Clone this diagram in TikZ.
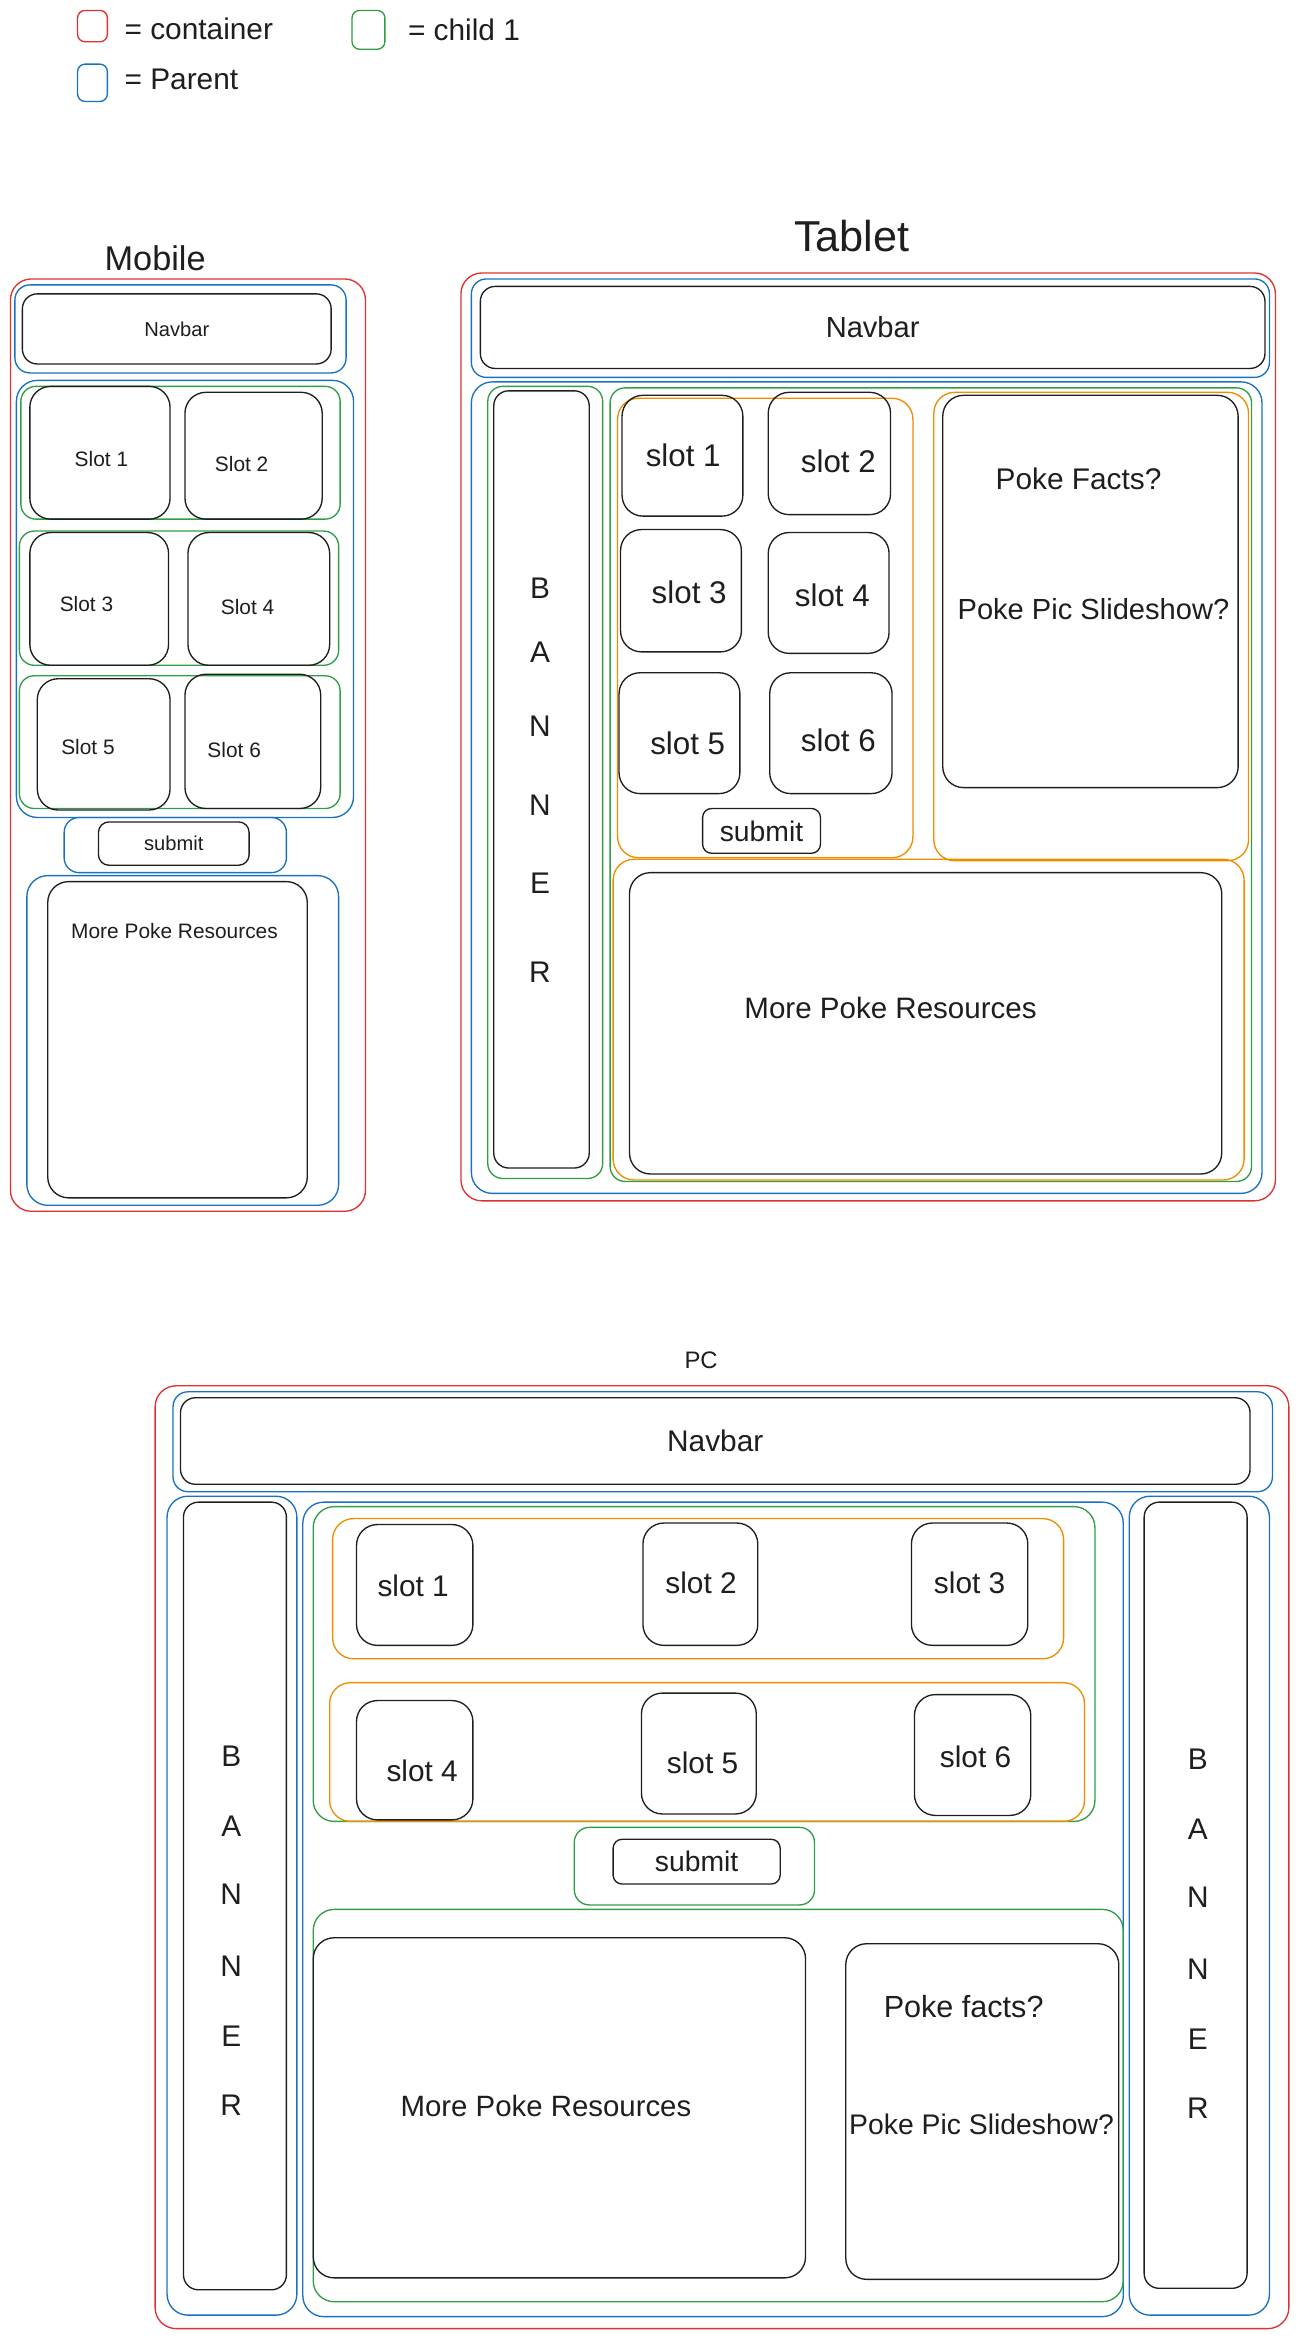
\documentclass[tikz,border=0pt]{standalone}
\usepackage{fontspec}
\setmainfont{Liberation Sans}
\usetikzlibrary{fit}

\definecolor{exred}{HTML}{E03131}
\definecolor{exblue}{HTML}{1971C2}
\definecolor{exgreen}{HTML}{2F9E44}
\definecolor{exorange}{HTML}{F08C00}
\definecolor{exblack}{HTML}{1E1E1E}
\newcommand\txtsize[1]{\fontsize{#1}{#1}\selectfont}

\begin{document}
\begin{tikzpicture}[x=1pt, y=-1pt,
    frame/.style={rounded corners=10pt, line width=0.9pt, inner sep=0pt},
    container/.style={frame, draw=exred},
    parent/.style={frame, draw=exblue},
    child/.style={frame, draw=exgreen},
    group/.style={frame, draw=exorange},
    item/.style={frame, draw=exblack},
    slotbox/.style={item, rounded corners=14pt},
    keytext/.style={anchor=west, text=exblack, font=\txtsize{20}},
    caption/.style={text=exblack, inner sep=0pt},
    letter/.style={caption, font=\txtsize{20}}
    ]
    \useasboundingbox (0,0) rectangle (871,1568);

    % legend
    \node[container, rounded corners=5pt, fit={(52,7) (72,28)}] (key_container) {};
    \node[keytext] (key_container_text) at (80,19) {= container};
    \node[parent, rounded corners=5pt, fit={(52,43) (72,68)}] (key_parent) {};
    \node[keytext] (key_parent_text) at (80,53) {= Parent};
    \node[child, rounded corners=5pt, fit={(236,7) (258,33)}] (key_child) {};
    \node[keytext] (key_child_text) at (270,20) {= child 1};

    % mobile
    \node[caption, font=\txtsize{23}] (m_title) at (104,173) {Mobile};
    \node[container, rounded corners=14pt, fit={(7,187) (245,812)}] (m_container) {};
    \node[parent, fit={(10,191) (232,250)}] (m_nav_parent) {};
    \node[item, fit={(15,197) (222,244)}] (m_navbar) {};
    \node[caption, font=\txtsize{13.5}] (m_navbar_text) at (m_navbar) {Navbar};
    \node[parent, rounded corners=14pt, fit={(11,255) (237,548)}] (m_slots_parent) {};
    \node[child, fit={(14,259) (228,348)}] (m_row1) {};
    \node[child, fit={(13,356) (227,446)}] (m_row2) {};
    \node[child, fit={(13,453) (228,542)}] (m_row3) {};
    \foreach \n/\xa/\ya/\xb/\yb/\lx/\ly in {1/20/259/114/348/68/308, 2/124/263/216/348/162/311,
        3/20/357/113/446/58/405, 4/126/357/221/446/166/407,
        5/25/455/114/543/59/501, 6/124/452/215/542/157/503} {
      \node[slotbox, fit={(\xa,\ya) (\xb,\yb)}] (m_slot\n) {};
      \node[caption, font=\txtsize{14}] (m_slot\n_text) at (\lx,\ly) {Slot \n};
    };
    \node[parent, fit={(43,548) (192,585)}] (m_submit_parent) {};
    \node[item, rounded corners=7pt, fit={(66,551) (167,580)}] (m_submit) {};
    \node[caption, font=\txtsize{13.5}] (m_submit_text) at (m_submit) {submit};
    \node[parent, rounded corners=14pt, fit={(18,587) (227,808)}] (m_res_parent) {};
    \node[item, rounded corners=14pt, fit={(32,591) (206,803)}] (m_resources) {};
    \node[caption, font=\txtsize{14}] (m_res_text) at (117,624) {More Poke Resources};

    % tablet
    \node[caption, font=\txtsize{29}] (t_title) at (571,158) {Tablet};
    \node[container, rounded corners=14pt, fit={(309,183) (855,805)}] (t_container) {};
    \node[parent, fit={(316,187) (851,253)}] (t_nav_parent) {};
    \node[item, fit={(322,192) (848,247)}] (t_navbar) {};
    \node[caption, font=\txtsize{19.5}] (t_navbar_text) at (t_navbar) {Navbar};
    \node[parent, rounded corners=14pt, fit={(316,256) (846,800)}] (t_main_parent) {};
    \node[child, fit={(327,259) (404,790)}] (t_banner_child) {};
    \node[item, fit={(331,262) (395,783)}] (t_banner) {};
    \foreach \ch/\yy in {B/394, A/437, N/487, N/540, E/592, R/652} {
      \node[letter] (t_banner_\yy) at (362,\yy) {\ch};
    };
    \node[child, fit={(409,260) (839,792)}] (t_main_child) {};
    \node[group, rounded corners=14pt, fit={(414,267) (612,575)}] (t_slots_group) {};
    \foreach \n/\xa/\ya/\xb/\yb/\lx/\ly in {1/417/265/498/346/458/305, 2/515/263/597/345/562/309,
        3/416/355/497/437/462/397, 4/515/357/596/438/558/399,
        5/415/451/496/532/461/498, 6/516/451/598/532/562/496} {
      \node[slotbox, fit={(\xa,\ya) (\xb,\yb)}] (t_slot\n) {};
      \node[caption, font=\txtsize{21}] (t_slot\n_text) at (\lx,\ly) {slot \n};
    };
    \node[item, rounded corners=6pt, fit={(471,542) (550,572)}] (t_submit) {};
    \node[caption, font=\txtsize{19}] (t_submit_text) at (t_submit) {submit};
    \node[group, rounded corners=14pt, fit={(626,263) (837,577)}] (t_facts_group) {};
    \node[item, rounded corners=14pt, fit={(632,265) (830,528)}] (t_facts) {};
    \node[caption, font=\txtsize{20}] (t_facts_text) at (723,321) {Poke Facts?};
    \node[caption, font=\txtsize{19.5}] (t_slides_text) at (733,408) {Poke Pic Slideshow?};
    \node[group, rounded corners=14pt, fit={(411,576) (834,791)}] (t_res_group) {};
    \node[item, rounded corners=14pt, fit={(422,585) (819,787)}] (t_resources) {};
    \node[caption, font=\txtsize{19.8}] (t_res_text) at (597,676) {More Poke Resources};

    % pc
    \node[caption, font=\txtsize{16}] (p_title) at (470,912) {PC};
    \node[container, rounded corners=14pt, fit={(104,929) (864,1561)}] (p_container) {};
    \node[parent, fit={(116,933) (853,1000)}] (p_nav_parent) {};
    \node[item, fit={(121,937) (838,995)}] (p_navbar) {};
    \node[caption, font=\txtsize{20}] (p_navbar_text) at (p_navbar) {Navbar};
    \node[parent, rounded corners=14pt, fit={(112,1003) (199,1552)}] (p_left_parent) {};
    \node[item, fit={(123,1007) (192,1535)}] (p_left_banner) {};
    \node[parent, rounded corners=14pt, fit={(757,1003) (851,1552)}] (p_right_parent) {};
    \node[item, fit={(767,1007) (836,1534)}] (p_right_banner) {};
    \foreach \ch/\yy in {B/1177, A/1224, N/1270, N/1318, E/1365, R/1411} {
      \node[letter] (p_lbanner_\yy) at (155,\yy) {\ch};
      \node[letter] (p_rbanner_\yy) at (803,\yy+2) {\ch};
    };
    \node[parent, rounded corners=14pt, fit={(203,1007) (753,1553)}] (p_main_parent) {};
    \node[child, rounded corners=14pt, fit={(210,1010) (734,1221)}] (p_slots_child) {};
    \node[group, rounded corners=14pt, fit={(223,1018) (713,1112)}] (p_row1) {};
    \node[group, rounded corners=14pt, fit={(221,1128) (727,1221)}] (p_row2) {};
    \foreach \n/\xa/\ya/\xb/\yb/\lx/\ly in {1/239/1022/317/1103/277/1063, 2/431/1021/508/1103/470/1061,
        3/611/1021/689/1103/650/1061, 4/239/1140/317/1220/283/1187,
        5/430/1135/507/1216/471/1182, 6/613/1136/691/1217/654/1178} {
      \node[slotbox, fit={(\xa,\ya) (\xb,\yb)}] (p_slot\n) {};
      \node[caption, font=\txtsize{20}] (p_slot\n_text) at (\lx,\ly) {slot \n};
    };
    \node[child, fit={(385,1225) (546,1277)}] (p_submit_child) {};
    \node[item, rounded corners=6pt, fit={(411,1233) (523,1263)}] (p_submit) {};
    \node[caption, font=\txtsize{19}] (p_submit_text) at (p_submit) {submit};
    \node[child, rounded corners=14pt, fit={(210,1280) (753,1543)}] (p_lower_child) {};
    \node[item, rounded corners=14pt, fit={(210,1299) (540,1527)}] (p_resources) {};
    \node[caption, font=\txtsize{19.7}] (p_res_text) at (366,1412) {More Poke Resources};
    \node[item, rounded corners=14pt, fit={(567,1303) (750,1528)}] (p_facts) {};
    \node[caption, font=\txtsize{20.5}] (p_facts_text) at (646,1345) {Poke facts?};
    \node[caption, font=\txtsize{19}] (p_slides_text) at (658,1424) {Poke Pic Slideshow?};
  \end{tikzpicture}
\end{document}
